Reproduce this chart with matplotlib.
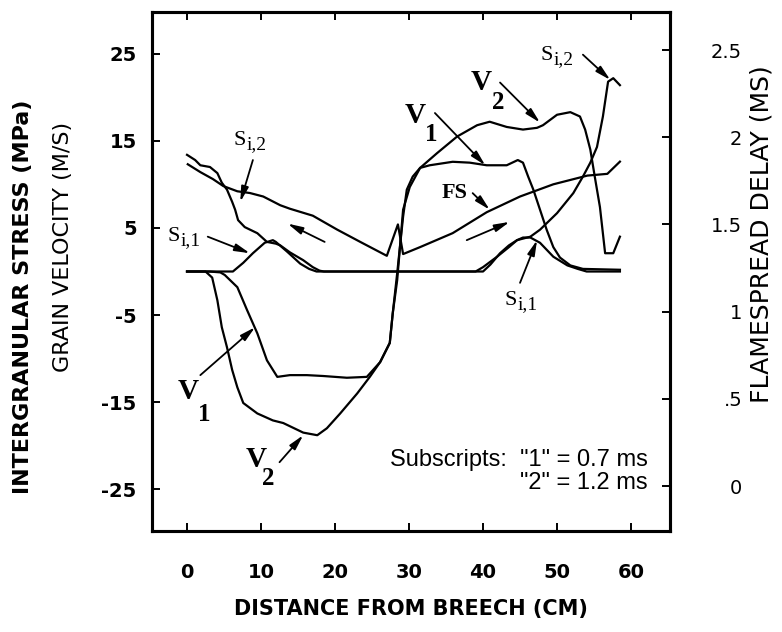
import matplotlib
matplotlib.use("Agg")
import matplotlib.pyplot as plt

# values (x = distance from breech, cm)
v1_x = [0, 3.0, 4.5, 5.1, 6.8, 8.1, 9.5, 10.8, 12.2, 13.9, 16.2, 18.4, 21.6, 24.3, 26.1, 27.4,
        27.8, 28.4, 29.2, 29.7, 30.5, 31.5, 32.8, 35.9, 38.2, 40.5, 43.2, 44.7, 45.4, 46.1,
        46.8, 47.7, 48.6, 49.5, 50.4, 51.8, 53.5, 58.5]
v1_y = [0, 0, -0.1, -0.4, -1.8, -4.4, -7.1, -10.2, -12.1, -11.9, -11.9, -12.0, -12.2, -12.1, -10.4, -8.2,
        -4.8, -0.2, 6.3, 9.4, 10.9, 11.9, 12.2, 12.6, 12.5, 12.2, 12.2, 12.8, 12.5, 10.9,
        9.4, 7.1, 4.8, 2.8, 1.6, 0.7, 0.3, 0.2]
v2_x = [0, 2.5, 3.4, 4.1, 4.7, 5.4, 6.1, 6.8, 7.6, 9.5, 11.6, 13.0, 15.7, 17.6, 18.9, 20.7, 23.0,
        24.7, 26.1, 27.4, 27.8, 28.4, 29.2, 30.1, 31.5, 33.8, 36.5, 39.2, 40.9, 43.2, 45.4,
        47.3, 48.1, 50.0, 51.8, 53.1, 53.8, 54.5, 55.1, 55.8, 56.5, 57.6, 58.5]
v2_y = [0, 0, -0.7, -3.3, -6.4, -8.7, -11.3, -13.3, -15.1, -16.3, -17.1, -17.4, -18.5, -18.8, -18.0, -16.3, -14.0,
        -12.1, -10.4, -8.2, -4.8, -1.0, 7.1, 9.7, 11.9, 13.6, 15.5, 16.8, 17.2, 16.6, 16.3,
        16.5, 16.8, 18.0, 18.3, 17.8, 16.3, 14.0, 10.9, 7.4, 2.1, 2.1, 4.0]
si1_x = [0, 6.2, 7.6, 8.9, 10.5, 11.6, 12.0, 13.5, 15.3, 16.5, 17.5, 40.0, 41.0, 42.3, 43.5,
         44.6, 45.4, 46.4, 47.7, 49.5, 51.4, 52.8, 54.0, 58.5]
si1_y = [0, 0, 1.0, 2.1, 3.3, 3.6, 3.4, 2.3, 0.9, 0.3, 0, 0, 0.8, 2.1, 3.0,
         3.6, 3.9, 3.9, 3.3, 1.7, 0.7, 0.3, 0, 0]
si2_x = [0, 1.1, 1.8, 3.1, 4.1, 4.7, 5.4, 6.1, 6.5, 6.9, 7.8, 9.5, 10.8, 12.0, 12.6, 13.9, 15.7,
         17.0, 17.9, 18.5, 39.0, 40.0, 41.9, 43.5, 44.6, 46.4, 47.7, 50.0, 52.2, 53.5, 54.5,
         55.4, 56.2, 56.9, 57.6, 58.5]
si2_y = [13.4, 12.8, 12.2, 12.0, 11.3, 10.2, 9.4, 8.0, 7.1, 5.9, 5.1, 4.4, 3.4, 3.2, 3.0, 2.2, 1.3,
         0.5, 0.1, 0, 0, 0.5, 1.7, 2.8, 3.6, 4.0, 4.8, 6.7, 9.0, 10.9, 12.5,
         14.3, 17.8, 21.8, 22.2, 21.4]
# flamespread delay (ms), right axis
fs_x = [0.1, 1.8, 3.5, 4.9, 6.8, 8.5, 10.3, 12.6, 13.9, 17.0, 20.3, 23.4, 27.0, 28.5, 29.2,
        31.5, 35.9, 40.5, 45.0, 49.5, 54.1, 56.8, 58.5]
fs_t = [1.845, 1.80, 1.76, 1.72, 1.69, 1.68, 1.66, 1.61, 1.59, 1.55, 1.47, 1.40, 1.32, 1.50, 1.33,
        1.37, 1.45, 1.57, 1.66, 1.73, 1.78, 1.79, 1.86]

x_ticks = [0, 10, 20, 30, 40, 50, 60]
left_ticks = [25, 15, 5, -5, -15, -25]
right_ticks = [0, 0.5, 1, 1.5, 2, 2.5]
right_labels = ["0", ".5", "1", "1.5", "2", "2.5"]

TICK = dict(family="DejaVu Sans", weight="bold", size=14)
BOLDSERIF = dict(family="Liberation Serif", weight="bold")
SERIF = dict(family="Liberation Serif")

fig = plt.figure(figsize=(7.82, 6.32), dpi=100)
ax = fig.add_axes([0.1944, 0.1598, 0.6624, 0.8212])
ax2 = ax.twinx()

LW = 1.6
ax.plot(v1_x, v1_y, color="k", lw=LW)
ax.plot(v2_x, v2_y, color="k", lw=LW)
ax.plot(si1_x, si1_y, color="k", lw=LW)
ax.plot(si2_x, si2_y, color="k", lw=LW)
ax2.plot(fs_x, fs_t, color="k", lw=LW)

ax.set_xlim(-4.73, 65.27)
ax.set_ylim(-29.8, 29.8)
ax2.set_ylim(-0.258, 2.718)

ax.set_xticks(x_ticks)
ax.set_xticklabels([str(t) for t in x_ticks], **TICK)
ax.set_yticks(left_ticks)
ax.set_yticklabels([str(t) for t in left_ticks], **TICK)
ax2.set_yticks(right_ticks)
ax2.set_yticklabels(right_labels, family="DejaVu Sans", size=14)
for lab in ax2.get_yticklabels():
    lab.set_horizontalalignment("right")

ax.tick_params(axis="x", direction="in", top=True, length=6, width=1.4, pad=23)
ax.tick_params(axis="y", direction="in", left=True, right=False, length=6, width=1.4, pad=11)
ax2.tick_params(axis="y", direction="in", length=6, width=1.4, pad=52)
for a in (ax, ax2):
    for s in a.spines.values():
        s.set_linewidth(2.2)

ax.set_xlabel("DISTANCE FROM BREECH (CM)", family="DejaVu Sans", weight="bold", size=15, labelpad=12)
fig.text(0.030, 0.53, "INTERGRANULAR STRESS (MPa)", rotation=90, ha="center", va="center",
         family="DejaVu Sans", weight="bold", size=16)
fig.text(0.080, 0.61, "GRAIN VELOCITY (M/S)", rotation=90, ha="center", va="center",
         family="DejaVu Sans", size=16)
fig.text(0.974, 0.63, "FLAMESPREAD DELAY (MS)", rotation=90, ha="center", va="center",
         family="DejaVu Sans", size=18)


def sub_label(x, y, main, sub):
    ax.text(x, y, main, ha="right", va="center", size=16, **SERIF)
    ax.annotate(sub, (x, y), xytext=(0.5, -3), textcoords="offset points",
                ha="left", va="center", size=14, **SERIF)


def v_label(xv, yv, xs, ys, sub):
    ax.text(xv, yv, "V", ha="center", va="center", size=21, **BOLDSERIF)
    ax.text(xs, ys, sub, ha="center", va="center", size=18, **BOLDSERIF)


def arrow(x0, y0, x1, y1):
    ax.annotate("", xy=(x1, y1), xytext=(x0, y0),
                arrowprops=dict(arrowstyle="-|>,head_length=0.9,head_width=0.22", color="k",
                                lw=1.3, shrinkA=0, shrinkB=0))


sub_label(8.0, 15.0, "S", "i,2")
arrow(8.9, 12.8, 7.2, 8.0)
sub_label(-0.95, 4.0, "S", "i,1")
arrow(2.8, 4.0, 8.5, 2.1)
sub_label(49.5, 24.8, "S", "i,2")
arrow(53.5, 24.9, 57.2, 22.0)
sub_label(44.6, -3.3, "S", "i,1")
arrow(45.0, -1.3, 47.3, 3.6)

v_label(0.2, -13.8, 2.3, -16.4, "1")
arrow(1.8, -11.9, 9.2, -6.4)
v_label(9.3, -21.6, 11.0, -23.8, "2")
arrow(12.5, -21.9, 15.7, -18.8)
v_label(30.9, 17.9, 33.0, 15.7, "1")
arrow(33.5, 18.2, 40.3, 12.2)
v_label(39.8, 21.7, 42.0, 19.4, "2")
arrow(42.3, 21.7, 47.7, 17.1)

ax.text(36.2, 9.0, "FS", ha="center", va="center", size=16, **BOLDSERIF)
arrow(38.6, 9.0, 40.9, 7.1)
# direction arrows along the flamespread curve
arrow(18.6, 3.4, 13.6, 5.5)
arrow(37.8, 3.6, 43.6, 5.7)

ax.text(62.3, -21.7, 'Subscripts:  "1" = 0.7 ms', ha="right", va="center",
        family="Liberation Sans", size=17)
ax.text(62.3, -24.3, '"2" = 1.2 ms', ha="right", va="center",
        family="Liberation Sans", size=17)

fig.savefig("out.png", dpi=100, facecolor="white")
